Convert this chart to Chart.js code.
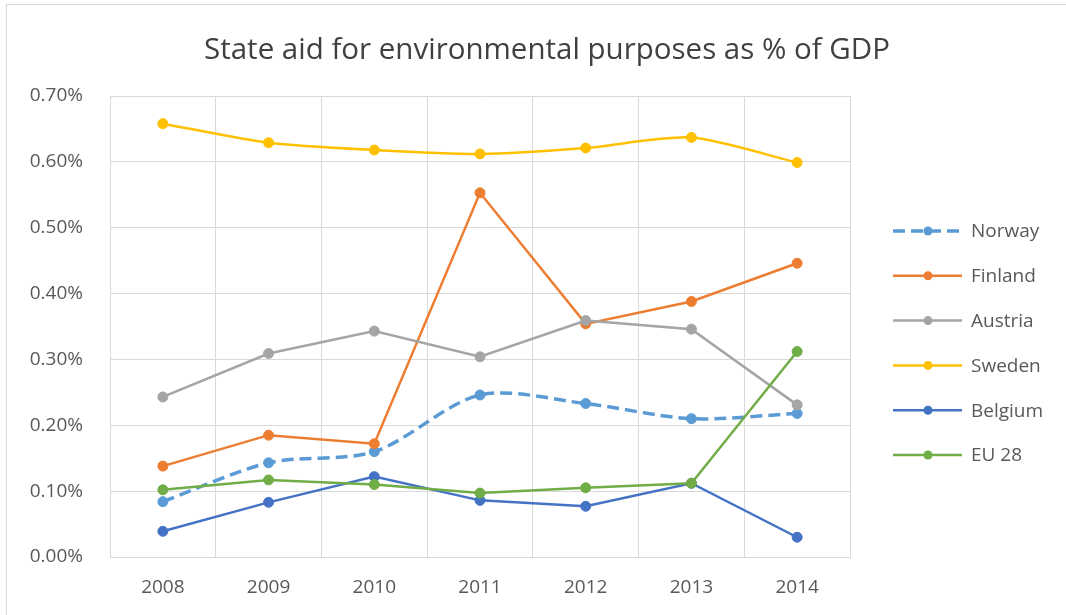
<!DOCTYPE html>
<html>
<head>
<meta charset="utf-8">
<script src="https://cdn.jsdelivr.net/npm/chart.js@4.4.1/dist/chart.umd.min.js"></script>
<style>
  html, body { margin: 0; padding: 0; background: #fff; }
  #wrap { position: relative; width: 1066px; height: 615px; }
  #frame { position: absolute; left: 6px; top: 4px; right: 0; bottom: 0;
           border-top: 1px solid #d9d9d9; border-left: 1px solid #d9d9d9; pointer-events: none; }
  canvas { position: absolute; left: 0; top: 0; }
</style>
</head>
<body>
<div id="wrap">
  <canvas id="c" width="1066" height="615"></canvas>
  <div id="frame"></div>
</div>
<script>
// Years on the category axis
const years = ['2008', '2009', '2010', '2011', '2012', '2013', '2014'];

// State aid for environmental purposes, % of GDP
const norway  = [0.084, 0.143, 0.160, 0.246, 0.233, 0.210, 0.218];
const finland = [0.138, 0.185, 0.172, 0.553, 0.354, 0.388, 0.446];
const austria = [0.243, 0.309, 0.343, 0.304, 0.359, 0.346, 0.231];
const sweden  = [0.658, 0.629, 0.618, 0.612, 0.621, 0.637, 0.599];
const belgium = [0.039, 0.083, 0.122, 0.086, 0.077, 0.112, 0.030];
const eu28    = [0.102, 0.117, 0.110, 0.097, 0.105, 0.112, 0.312];

const seriesNames = ['Norway', 'Finland', 'Austria', 'Sweden', 'Belgium', 'EU 28'];
const yTicks = [0, 0.1, 0.2, 0.3, 0.4, 0.5, 0.6, 0.7];
const titleText = 'State aid for environmental purposes as % of GDP';

const FONT = "'Open Sans', 'DejaVu Sans', sans-serif";
const TEXT = '#595959';
const GRID = '#d9d9d9';

function series(name, data, color, extra) {
  return Object.assign({
    label: name,
    data: data,
    borderColor: color,
    backgroundColor: color,
    pointBackgroundColor: color,
    pointBorderColor: color,
    pointRadius: 5,
    pointBorderWidth: 1,
    borderWidth: 2.5,
    tension: 0,
    fill: false
  }, extra || {});
}

const datasets = [
  series(seriesNames[0], norway,  '#5b9bd5', { borderDash: [12, 6], borderWidth: 3.5, tension: 0.3, order: 6 }),
  series(seriesNames[1], finland, '#ed7d31', { order: 5 }),
  series(seriesNames[2], austria, '#a5a5a5', { order: 4 }),
  series(seriesNames[3], sweden,  '#ffc000', { tension: 0.25, order: 3 }),
  series(seriesNames[4], belgium, '#4472c4', { order: 2 }),
  series(seriesNames[5], eu28,    '#70ad47', { order: 1 })
];

// Chart title centred across the whole figure
const figureTitle = {
  id: 'figureTitle',
  afterDraw(chart) {
    const ctx = chart.ctx;
    ctx.save();
    ctx.fillStyle = '#404040';
    ctx.font = '29.5px ' + FONT;
    ctx.textAlign = 'center';
    ctx.textBaseline = 'alphabetic';
    ctx.fillText(titleText, 547, 59);
    ctx.restore();
  }
};

// Legend on the right: a line sample with a marker, then the series name
const sideLegend = {
  id: 'sideLegend',
  afterDraw(chart) {
    const ctx = chart.ctx;
    const x0 = 893, x1 = 962, xm = 928, xt = 971;
    const yStart = 231, step = 44.8;
    ctx.save();
    chart.data.datasets.forEach((ds, i) => {
      const y = yStart + i * step;
      ctx.strokeStyle = ds.borderColor;
      ctx.lineWidth = ds.borderWidth;
      ctx.setLineDash(ds.borderDash || []);
      ctx.beginPath();
      ctx.moveTo(x0, y);
      ctx.lineTo(x1, y);
      ctx.stroke();
      ctx.setLineDash([]);
      ctx.fillStyle = ds.pointBackgroundColor;
      ctx.beginPath();
      ctx.arc(xm, y, 4.5, 0, Math.PI * 2);
      ctx.fill();
      ctx.fillStyle = TEXT;
      ctx.font = '19px ' + FONT;
      ctx.textAlign = 'left';
      ctx.textBaseline = 'middle';
      ctx.fillText(ds.label, xt, y + 1);
    });
    ctx.restore();
  }
};

new Chart(document.getElementById('c'), {
  type: 'line',
  data: { labels: years, datasets: datasets },
  plugins: [figureTitle, sideLegend],
  options: {
    responsive: false,
    animation: false,
    layout: { padding: { left: 0, right: 216, top: 96, bottom: 0 } },
    plugins: {
      legend: { display: false },
      tooltip: { enabled: false },
      title: { display: false }
    },
    scales: {
      x: {
        offset: true,
        afterFit(scale) { scale.height = 58; },
        grid: { offset: true, color: GRID, lineWidth: 1, drawTicks: false },
        border: { color: GRID },
        ticks: { color: TEXT, font: { family: FONT, size: 19 }, padding: 19, maxRotation: 0 }
      },
      y: {
        min: 0,
        max: 0.7,
        afterFit(scale) { scale.width = 110; },
        afterBuildTicks(scale) { scale.ticks = yTicks.map(v => ({ value: v })); },
        grid: { color: GRID, lineWidth: 1, drawTicks: false },
        border: { color: GRID },
        ticks: {
          color: TEXT,
          font: { family: FONT, size: 19 },
          padding: 27,
          callback: v => v.toFixed(2) + '%'
        }
      }
    }
  }
});
</script>
</body>
</html>
